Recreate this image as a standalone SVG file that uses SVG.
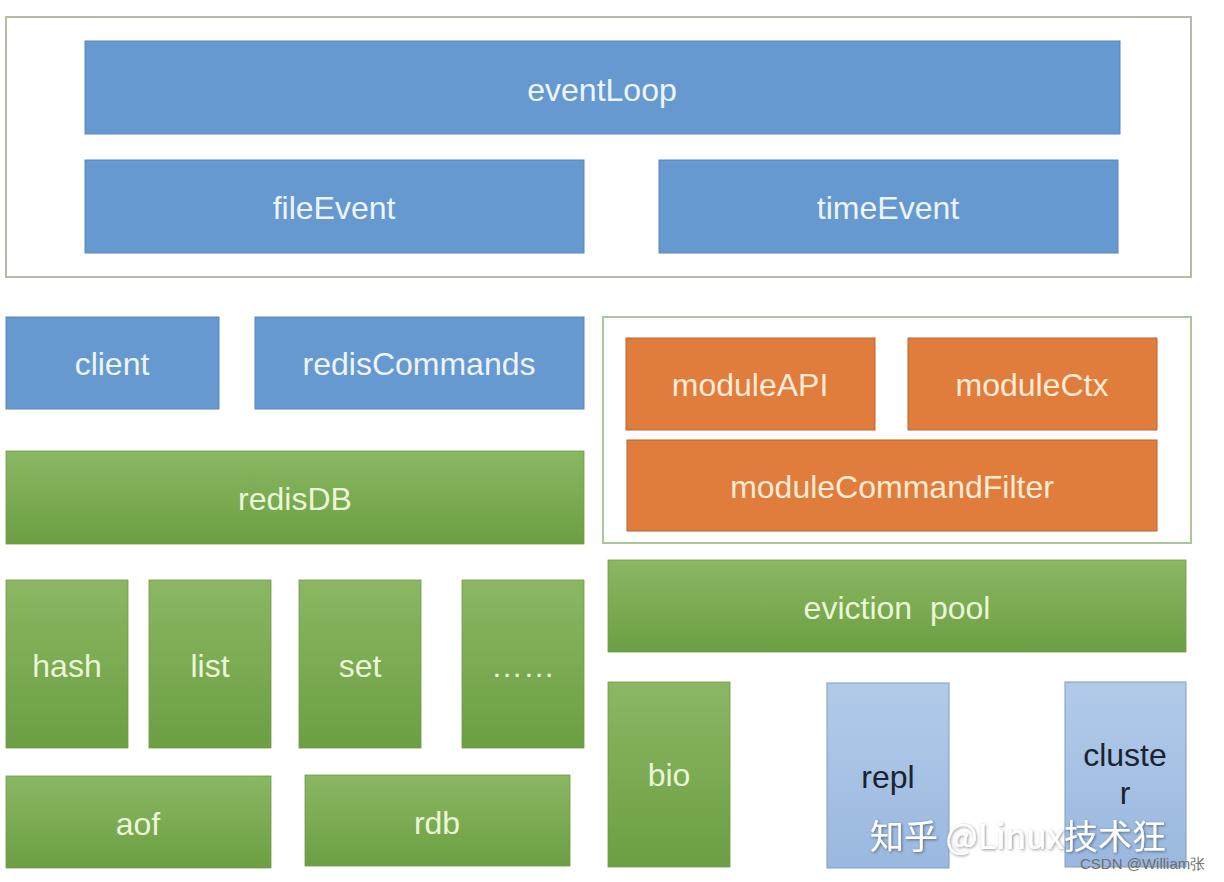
<svg xmlns="http://www.w3.org/2000/svg" width="1224" height="882" viewBox="0 0 1224 882">
<defs>
<linearGradient id="gGreen" x1="0" y1="0" x2="0" y2="1">
<stop offset="0" stop-color="#8bb763"/>
<stop offset="1" stop-color="#6b9f42"/>
</linearGradient>
<linearGradient id="gLight" x1="0" y1="0" x2="0" y2="1">
<stop offset="0" stop-color="#b2cbe9"/>
<stop offset="1" stop-color="#9ab8df"/>
</linearGradient>
<filter id="sh" x="-10%" y="-30%" width="120%" height="160%">
<feDropShadow dx="1" dy="1" stdDeviation="1.5" flood-color="#000" flood-opacity="0.45"/>
</filter>
</defs>
<style>
.frame{fill:#fff;stroke:#b4bba6;stroke-width:2}
.frameG{fill:#fff;stroke:#a9c79a;stroke-width:2}
.blue{fill:#6699cf;stroke:#5a87b8;stroke-width:1}
.green{fill:url(#gGreen);stroke:#6f9a4d;stroke-width:0.8}
.orange{fill:#e07d3d;stroke:#b8642c;stroke-width:1}
.light{fill:url(#gLight);stroke:#7f9cc4;stroke-width:1}
text{font-family:"Liberation Sans",Arial,sans-serif;font-size:32px;text-anchor:middle}
.tb{fill:#eef4fb}
.tg{fill:#eaf6d6}
.to{fill:#fdebd6}
.td{fill:#1b2330}
.wm{font-family:"Noto Sans CJK SC","Noto Sans",sans-serif;font-size:34px;fill:#fff;text-anchor:start;filter:url(#sh)}
.cs{font-family:"Liberation Sans",Arial,sans-serif;font-size:15px;fill:#6e6e6e;text-anchor:start}
</style>
<rect width="1224" height="882" fill="#fff"/>
<g id="eventFrame"><rect class="frame" x="6" y="17" width="1185" height="260"/></g>
<g id="eventLoop"><rect class="blue" x="85" y="41" width="1035" height="93"/><text class="tb" x="602" y="101">eventLoop</text></g>
<g id="fileEvent"><rect class="blue" x="85" y="160" width="499" height="93"/><text class="tb" x="334" y="219">fileEvent</text></g>
<g id="timeEvent"><rect class="blue" x="659" y="160" width="459" height="93"/><text class="tb" x="888" y="219">timeEvent</text></g>
<g id="client"><rect class="blue" x="6" y="317" width="213" height="92"/><text class="tb" x="112" y="375">client</text></g>
<g id="redisCommands"><rect class="blue" x="255" y="317" width="329" height="92"/><text class="tb" x="419" y="375">redisCommands</text></g>
<g id="moduleFrame"><rect class="frameG" x="603" y="317" width="588" height="226"/></g>
<g id="moduleAPI"><rect class="orange" x="626" y="338" width="249" height="92"/><text class="to" x="750" y="396">moduleAPI</text></g>
<g id="moduleCtx"><rect class="orange" x="908" y="338" width="249" height="92"/><text class="to" x="1032" y="396">moduleCtx</text></g>
<g id="moduleCommandFilter"><rect class="orange" x="627" y="440" width="530" height="91"/><text class="to" x="892" y="498">moduleCommandFilter</text></g>
<g id="redisDB"><rect class="green" x="6" y="451" width="578" height="93"/><text class="tg" x="295" y="510">redisDB</text></g>
<g id="evictionPool"><rect class="green" x="608" y="560" width="578" height="92"/><text class="tg" x="897" y="619" xml:space="preserve">eviction  pool</text></g>
<g id="hash"><rect class="green" x="6" y="580" width="122" height="168"/><text class="tg" x="67" y="677">hash</text></g>
<g id="list"><rect class="green" x="149" y="580" width="122" height="168"/><text class="tg" x="210" y="677">list</text></g>
<g id="set"><rect class="green" x="299" y="580" width="122" height="168"/><text class="tg" x="360" y="677">set</text></g>
<g id="more"><rect class="green" x="462" y="580" width="122" height="168"/><text class="tg" x="523" y="677">……</text></g>
<g id="aof"><rect class="green" x="6" y="776" width="265" height="92"/><text class="tg" x="138" y="835">aof</text></g>
<g id="rdb"><rect class="green" x="305" y="775" width="265" height="91"/><text class="tg" x="437" y="834">rdb</text></g>
<g id="bio"><rect class="green" x="608" y="682" width="122" height="185"/><text class="tg" x="669" y="786">bio</text></g>
<g id="repl"><rect class="light" x="827" y="683" width="122" height="185"/><text class="td" x="888" y="788">repl</text></g>
<g id="cluster"><rect class="light" x="1065" y="682" width="121" height="185"/><text class="td" x="1125" y="766">cluste</text><text class="td" x="1125" y="804">r</text></g>
<g id="connectors"></g>
<text class="wm" x="870" y="849">知乎 @Linux技术狂</text>
<text class="cs" x="1080" y="869">CSDN @William张</text>
</svg>
